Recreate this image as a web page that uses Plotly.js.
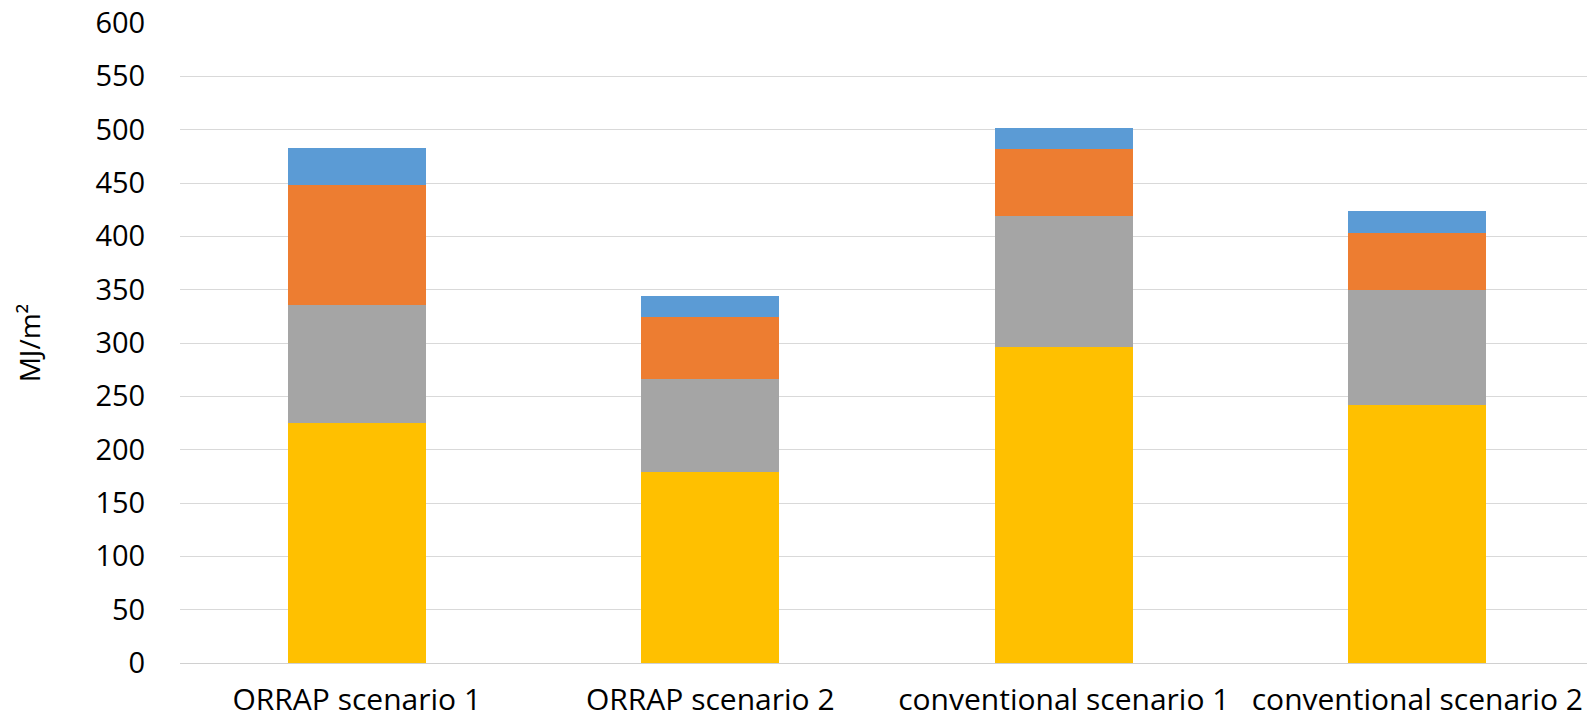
<!DOCTYPE html>
<html>
<head>
<meta charset="utf-8">
<script src="https://cdn.plot.ly/plotly-3.0.1.min.js"></script>
<style>
  html, body { margin: 0; padding: 0; background: #fff; }
  #chart { width: 1587px; height: 721px; }
</style>
</head>
<body>
<div id="chart"></div>
<script>
// Scenario categories (x axis)
const categories = ['ORRAP scenario 1', 'ORRAP scenario 2', 'conventional scenario 1', 'conventional scenario 2'];

// Stacked energy components, MJ/m², bottom to top
const yellowSeries = [225, 179, 296.5, 242];
const graySeries   = [111, 87, 123, 108];
const orangeSeries = [112, 58, 62.5, 53.5];
const blueSeries   = [35, 20, 20, 20];

const yTicks = [0, 50, 100, 150, 200, 250, 300, 350, 400, 450, 500, 550, 600];

const colors = { yellow: '#FFC000', gray: '#A5A5A5', orange: '#ED7D31', blue: '#5B9BD5' };

const FONT = 'Open Sans, Noto Sans, sans-serif';

function barTrace(values, color) {
  return {
    type: 'bar',
    x: categories,
    y: values,
    width: 0.39,
    marker: { color: color, line: { width: 0 } },
    hoverinfo: 'y',
    showlegend: false
  };
}

const data = [
  barTrace(yellowSeries, colors.yellow),
  barTrace(graySeries, colors.gray),
  barTrace(orangeSeries, colors.orange),
  barTrace(blueSeries, colors.blue)
];

const layout = {
  width: 1587,
  height: 721,
  barmode: 'stack',
  paper_bgcolor: '#ffffff',
  plot_bgcolor: '#ffffff',
  margin: { l: 180, r: 0, t: 23, b: 58 },
  showlegend: false,
  xaxis: {
    type: 'category',
    range: [-0.5, 3.48],
    showgrid: false,
    showline: true,
    linecolor: '#D0D0D0',
    linewidth: 1,
    ticks: 'outside',
    ticklen: 10,
    tickcolor: 'rgba(0,0,0,0)',
    tickfont: { family: FONT, size: 30, color: '#000' },
    zeroline: false,
    fixedrange: true
  },
  yaxis: {
    range: [0, 600],
    tickvals: yTicks,
    ticktext: yTicks.map(String),
    showgrid: true,
    gridcolor: '#D9D9D9',
    gridwidth: 1,
    zeroline: false,
    showline: false,
    ticks: 'outside',
    ticklen: 28,
    tickcolor: 'rgba(0,0,0,0)',
    tickfont: { family: FONT, size: 29, color: '#000' },
    title: {
      text: 'MJ/m²',
      font: { family: FONT, size: 28, color: '#000' },
      standoff: 46
    },
    fixedrange: true
  }
};

Plotly.newPlot('chart', data, layout, { displayModeBar: false, staticPlot: true });
</script>
</body>
</html>
